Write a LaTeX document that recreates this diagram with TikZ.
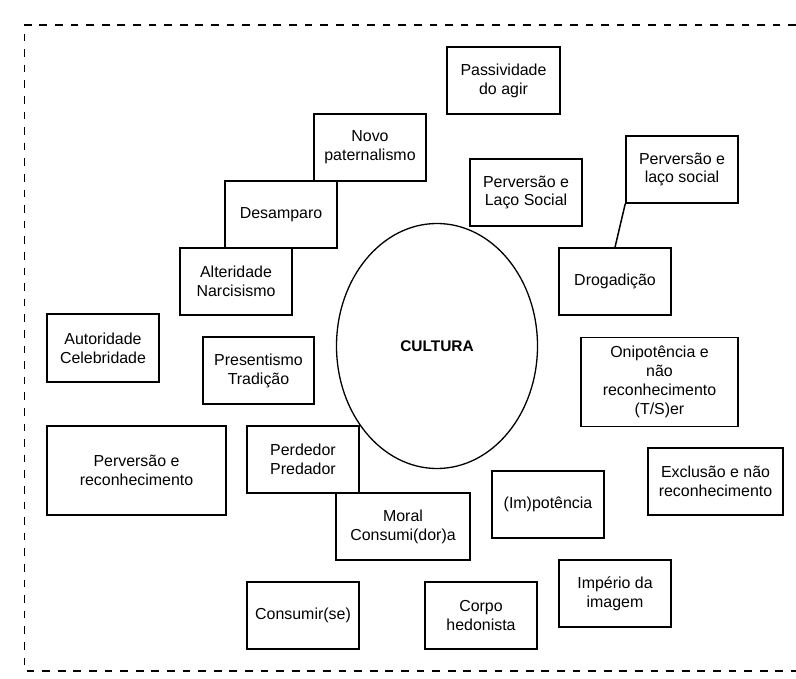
\documentclass[tikz,border=0pt]{standalone}
\usepackage{fontspec}
\setmainfont{Liberation Sans}
\usepackage{tikz}
\usetikzlibrary{shapes.geometric}

\begin{document}
\begin{tikzpicture}[x=1bp, y=-1bp,
    caixa/.style={draw, line width=1.5bp, inner sep=0pt, align=center,
        minimum width=112bp, minimum height=67bp,
        font=\fontsize{16}{19}\selectfont}]

\useasboundingbox (0,0) rectangle (796,679);

\draw[line width=1.7bp, dash pattern=on 7.7bp off 7.9bp]
 (796,25) -- (24.5,25) -- (24.5,671) -- (796,671);

\node[draw, ellipse, line width=1.3bp, minimum width=201bp, minimum height=245bp,
    font=\fontsize{15.5}{19}\selectfont\bfseries] (cult) at (437,346) {CULTURA};

\node[caixa] (nov) at (370,147.5) {Novo\\paternalismo};
\node[caixa] (des) at (281,214.5) {Desamparo};
\node[caixa] (alt) at (236,281.5) {Alteridade\\Narcisismo};
\node[caixa, minimum height=68bp] (aut) at (103,348) {Autoridade\\Celebridade};
\node[caixa, minimum width=111bp] (pre) at (258.5,370.5) {Presentismo\\Tradição};
\node[caixa, minimum width=179bp, minimum height=89bp] (prr) at (136.5,470.5)
    {Perversão e\\reconhecimento};
\node[caixa] (per) at (303,459.5) {Perdedor\\Predador};
\node[caixa, minimum width=134bp] (mor) at (403,526.5) {Moral\\Consumi(dor)a};
\node[caixa] (con) at (303,615.5) {Consumir(se)};

\node[caixa, minimum width=113bp] (pas) at (503.5,80.5) {Passividade\\do agir};
\node[caixa] (pls) at (526,192.5) {Perversão e\\Laço Social};
\node[caixa] (plt) at (682,169.5) {Perversão e\\laço social};
\node[caixa] (dro) at (615,281.5) {Drogadição};
\node[caixa, minimum width=157bp, minimum height=89bp] (oni) at (659.5,382)
    {Onipotência e\\não\\reconhecimento\\(T/S)er};
\node[caixa, minimum width=135bp] (exc) at (715.5,481.5)
    {Exclusão e não\\reconhecimento};
\node[caixa] (imp) at (548,504.5) {(Im)potência};
\node[caixa] (imi) at (615,593.5) {Império da\\imagem};
\node[caixa] (cor) at (481,615.5) {Corpo\\hedonista};

\draw[line width=1.5bp] (plt.south west) -- (dro.north);

\end{tikzpicture}
\end{document}
